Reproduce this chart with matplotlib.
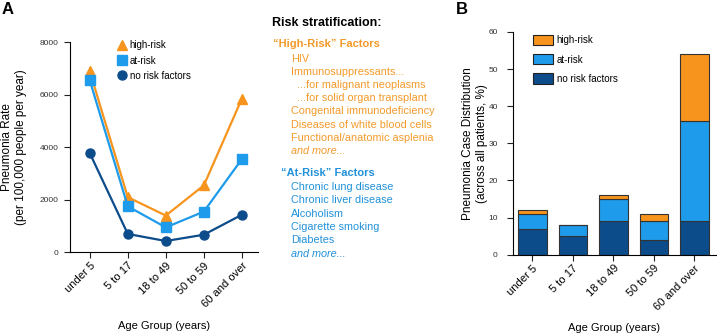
import numpy as np
import matplotlib
matplotlib.use("Agg")
import matplotlib.pyplot as plt
from matplotlib.patches import Patch
from matplotlib.lines import Line2D

plt.rcParams['font.family'] = ['Liberation Sans', 'DejaVu Sans']

# --> Data
age_groups = ['under 5', '5 to 17', '18 to 49', '50 to 59', '60 and over']

rate_high = [6900, 2100, 1400, 2550, 5850]
rate_at = [6550, 1750, 950, 1550, 3550]
rate_none = [3780, 700, 430, 670, 1430]

dist_none = [7, 5, 9, 4, 9]
dist_at = [4, 3, 6, 5, 27]
dist_high = [1, 0, 1, 2, 18]

high_factors = ['HIV', 'Immunosuppressants...', '  ...for malignant neoplasms',
                '  ...for solid organ transplant', 'Congenital immunodeficiency',
                'Diseases of white blood cells', 'Functional/anatomic asplenia']
at_factors = ['Chronic lung disease', 'Chronic liver disease', 'Alcoholism',
              'Cigarette smoking', 'Diabetes']

c_high = '#F7941D'
c_at = '#1E9BEA'
c_none = '#0D4C8A'
c_high_txt = '#F39A2B'
c_at_txt = '#2191DA'

fig = plt.figure(figsize=(7.17, 3.33), dpi=100)

# --> Panel A
ax1 = fig.add_axes([0.0976, 0.2423, 0.262, 0.6307])
x = np.arange(len(age_groups))
ax1.plot(x, rate_high, color=c_high, marker='^', markersize=7, lw=1.6)
ax1.plot(x, rate_at, color=c_at, marker='s', markersize=6.5, lw=1.6)
ax1.plot(x, rate_none, color=c_none, marker='o', markersize=6.5, lw=1.6)
ax1.set_xlim(-0.52, 4.42)
ax1.set_ylim(0, 8000)
ax1.set_yticks([0, 2000, 4000, 6000, 8000])
ax1.set_xticks(x)
ax1.set_xticklabels(age_groups, rotation=45, ha='right', rotation_mode='anchor')
ax1.set_ylabel('Pneumonia Rate\n(per 100,000 people per year)', fontsize=8.5)
ax1.yaxis.set_label_coords(-0.228, 0.5)
ax1.set_xlabel('Age Group (years)', fontsize=8, labelpad=8)

handles_a = [Line2D([], [], color=c_high, marker='^', ls='none', markersize=7),
             Line2D([], [], color=c_at, marker='s', ls='none', markersize=6.5),
             Line2D([], [], color=c_none, marker='o', ls='none', markersize=6.5)]
ax1.legend(handles_a, ['high-risk', 'at-risk', 'no risk factors'], loc='upper left',
           bbox_to_anchor=(0.255, 1.01), frameon=False, fontsize=7, handlelength=0.8,
           handletextpad=0.4, labelspacing=0.55, borderaxespad=0, borderpad=0)

# --> Panel B
ax2 = fig.add_axes([0.7155, 0.235, 0.283, 0.669])
ax2.bar(x, dist_none, width=0.7, color=c_none, edgecolor='#333333', lw=0.8)
ax2.bar(x, dist_at, width=0.7, bottom=dist_none, color=c_at, edgecolor='#333333', lw=0.8)
bottom_high = np.array(dist_none) + np.array(dist_at)
ax2.bar(x, dist_high, width=0.7, bottom=bottom_high, color=c_high, edgecolor='#333333', lw=0.8)
ax2.set_xlim(-0.48, 4.53)
ax2.set_ylim(0, 60)
ax2.set_yticks(range(0, 61, 10))
ax2.set_xticks(x)
ax2.set_xticklabels(age_groups, rotation=45, ha='right', rotation_mode='anchor')
ax2.set_ylabel('Pneumonia Case Distribution\n(across all patients, %)', fontsize=8.5)
ax2.yaxis.set_label_coords(-0.125, 0.5)
ax2.set_xlabel('Age Group (years)', fontsize=8, labelpad=8)

handles_b = [Patch(facecolor=c_high, edgecolor='#222222', lw=0.8),
             Patch(facecolor=c_at, edgecolor='#222222', lw=0.8),
             Patch(facecolor=c_none, edgecolor='#222222', lw=0.8)]
ax2.legend(handles_b, ['high-risk', 'at-risk', 'no risk factors'], loc='upper left',
           bbox_to_anchor=(0.098, 0.987), frameon=False, fontsize=7, handlelength=2.06,
           handleheight=1.27, handletextpad=0.4, labelspacing=0.9, borderaxespad=0,
           borderpad=0)

for ax in (ax1, ax2):
    ax.spines['top'].set_visible(False)
    ax.spines['right'].set_visible(False)
    ax.tick_params(axis='x', labelsize=8, length=4, width=0.8, color='#222222', pad=2)
    ax.tick_params(axis='y', labelsize=6, length=4, width=0.8, color='#222222',
                   labelcolor='#333333', pad=4)
ax2.tick_params(axis='y', pad=7)

# --> Risk stratification text
fig.text(272 / 717, 1 - 23 / 333, 'Risk stratification:', fontsize=9, fontweight='bold',
         va='center', ha='left')
fig.text(273 / 717, 1 - 44 / 333, '\u201cHigh-Risk\u201d Factors', fontsize=8,
         fontweight='bold', color=c_high_txt, va='center', ha='left')
y = 58.5
for item in high_factors:
    xoff = 297 if item.startswith('  ') else 291
    fig.text(xoff / 717, 1 - y / 333, item.strip(), fontsize=7.8, color=c_high_txt,
             va='center', ha='left')
    y += 13.2
fig.text(291 / 717, 1 - y / 333, 'and more...', fontsize=7.8, color=c_high_txt,
         style='italic', va='center', ha='left')

fig.text(281 / 717, 1 - 172.7 / 333, '\u201cAt-Risk\u201d Factors', fontsize=8,
         fontweight='bold', color=c_at_txt, va='center', ha='left')
y = 187
for item in at_factors:
    fig.text(291 / 717, 1 - y / 333, item, fontsize=7.8, color=c_at_txt,
             va='center', ha='left')
    y += 13.3
fig.text(291 / 717, 1 - y / 333, 'and more...', fontsize=7.8, color=c_at_txt,
         style='italic', va='center', ha='left')

# --> Panel letters
fig.text(2 / 717, 1 - 10 / 333, 'A', fontsize=12, fontweight='bold', va='center', ha='left')
fig.text(456 / 717, 1 - 10 / 333, 'B', fontsize=12, fontweight='bold', va='center', ha='left')

fig.savefig('out.png', dpi=100)
